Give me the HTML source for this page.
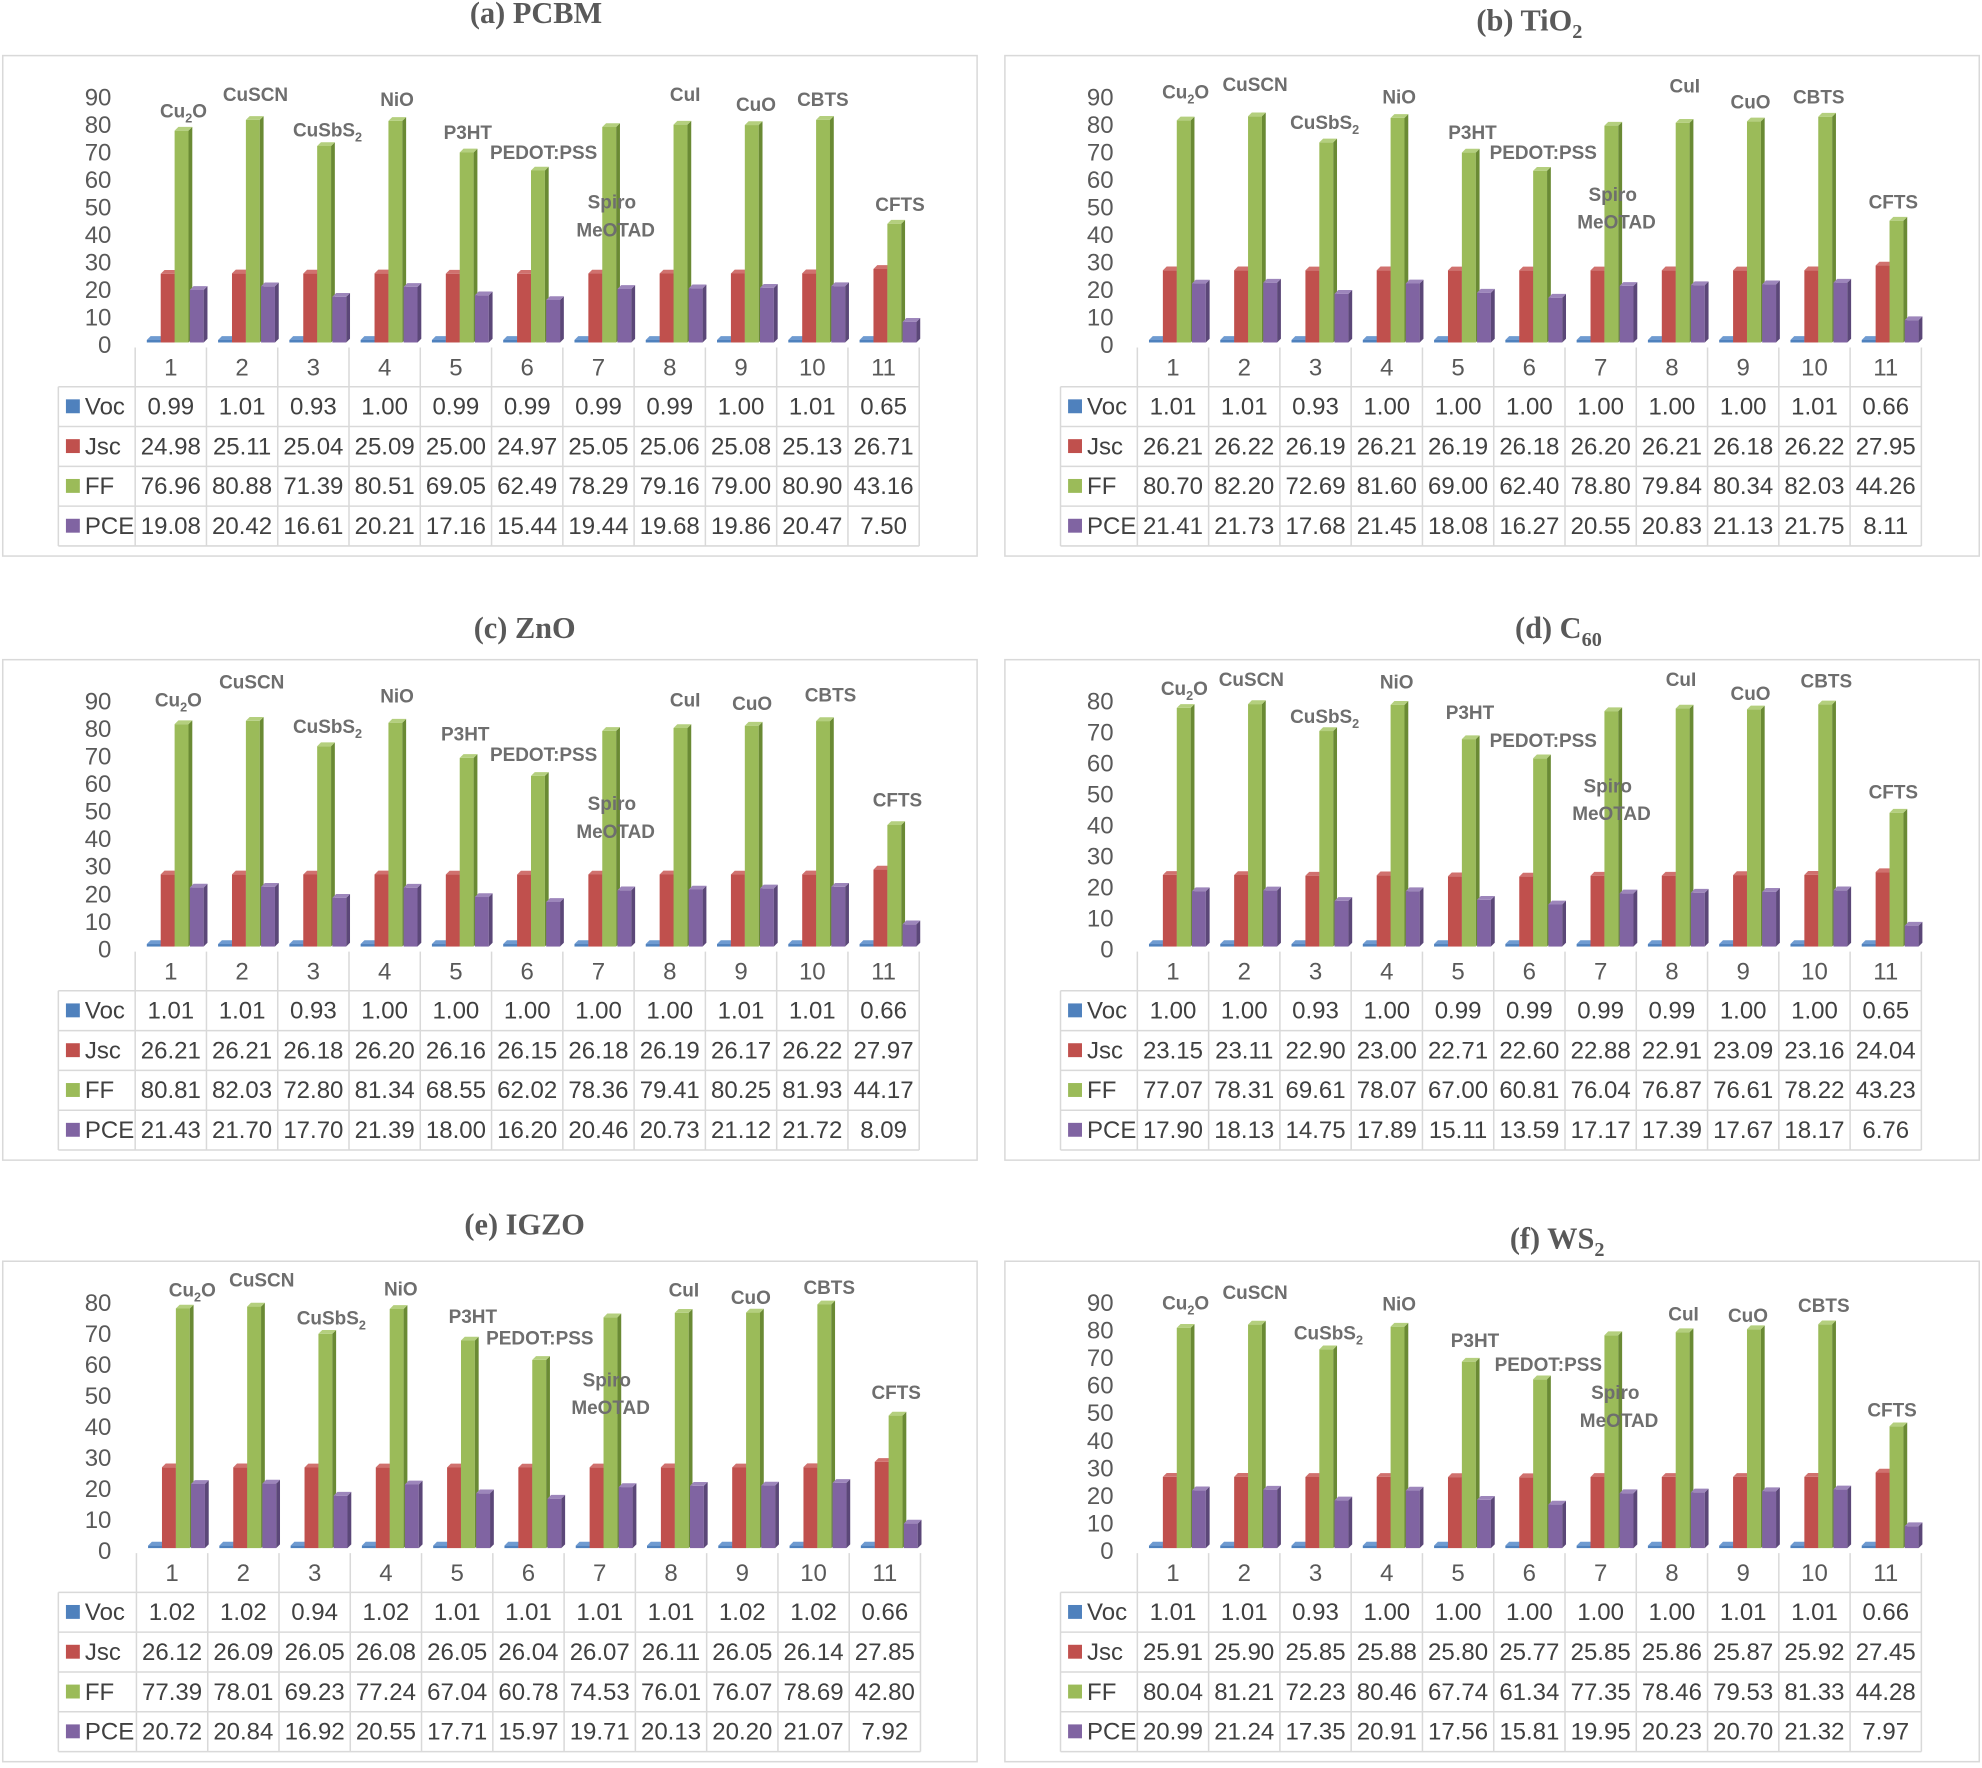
<!DOCTYPE html>
<html><head><meta charset="utf-8"><style>
html,body{margin:0;padding:0;background:#fff;}
svg{display:block;}
</style></head><body>
<svg id="s" xmlns="http://www.w3.org/2000/svg" width="1982" height="1768" viewBox="0 0 1568 1399"></svg>
<script>
const S=document.getElementById('s');
let out='';
const panels=[
{x:2,y:44,c1:135,max:90,title:'(a) PCBM',tx:424,ty:18,
 d:[[0.99,1.01,0.93,1.00,0.99,0.99,0.99,0.99,1.00,1.01,0.65],
    [24.98,25.11,25.04,25.09,25.00,24.97,25.05,25.06,25.08,25.13,26.71],
    [76.96,80.88,71.39,80.51,69.05,62.49,78.29,79.16,79.00,80.90,43.16],
    [19.08,20.42,16.61,20.21,17.16,15.44,19.44,19.68,19.86,20.47,7.50]],
 L:[[145,88],[202,75],[259,103],[314,79],[370,105],[430,121],[484,160],[542,75],[598,83],[651,79],[712,162]]},
{x:795,y:44,c1:928,max:90,title:'(b) TiO',sub:'2',tx:1210,ty:24,
 d:[[1.01,1.01,0.93,1.00,1.00,1.00,1.00,1.00,1.00,1.01,0.66],
    [26.21,26.22,26.19,26.21,26.19,26.18,26.20,26.21,26.18,26.22,27.95],
    [80.70,82.20,72.69,81.60,69.00,62.40,78.80,79.84,80.34,82.03,44.26],
    [21.41,21.73,17.68,21.45,18.08,16.27,20.55,20.83,21.13,21.75,8.11]],
 L:[[938,73],[993,67],[1048,97],[1107,77],[1165,105],[1221,121],[1276,154],[1333,68],[1385,81],[1439,77],[1498,160]]},
{x:2,y:522,c1:135,max:90,title:'(c) ZnO',tx:415,ty:505,
 d:[[1.01,1.01,0.93,1.00,1.00,1.00,1.00,1.00,1.01,1.01,0.66],
    [26.21,26.21,26.18,26.20,26.16,26.15,26.18,26.19,26.17,26.22,27.97],
    [80.81,82.03,72.80,81.34,68.55,62.02,78.36,79.41,80.25,81.93,44.17],
    [21.43,21.70,17.70,21.39,18.00,16.20,20.46,20.73,21.12,21.72,8.09]],
 L:[[141,554],[199,540],[259,575],[314,551],[368,581],[430,597],[484,636],[542,554],[595,557],[657,550],[710,633]]},
{x:795,y:522,c1:928,max:80,title:'(d) C',sub:'60',tx:1233,ty:505,
 d:[[1.00,1.00,0.93,1.00,0.99,0.99,0.99,0.99,1.00,1.00,0.65],
    [23.15,23.11,22.90,23.00,22.71,22.60,22.88,22.91,23.09,23.16,24.04],
    [77.07,78.31,69.61,78.07,67.00,60.81,76.04,76.87,76.61,78.22,43.23],
    [17.90,18.13,14.75,17.89,15.11,13.59,17.17,17.39,17.67,18.17,6.76]],
 L:[[937,545],[990,538],[1048,567],[1105,540],[1163,564],[1221,586],[1272,622],[1330,538],[1385,549],[1445,539],[1498,627]]},
{x:2,y:998,c1:136,max:80,title:'(e) IGZO',tx:415,ty:977,
 d:[[1.02,1.02,0.94,1.02,1.01,1.01,1.01,1.01,1.02,1.02,0.66],
    [26.12,26.09,26.05,26.08,26.05,26.04,26.07,26.11,26.05,26.14,27.85],
    [77.39,78.01,69.23,77.24,67.04,60.78,74.53,76.01,76.07,78.69,42.80],
    [20.72,20.84,16.92,20.55,17.71,15.97,19.71,20.13,20.20,21.07,7.92]],
 L:[[152,1021],[207,1013],[262,1043],[317,1020],[374,1042],[427,1059],[480,1092],[541,1021],[594,1027],[656,1019],[709,1102]]},
{x:795,y:998,c1:928,max:90,title:'(f) WS',sub:'2',tx:1232,ty:988,
 d:[[1.01,1.01,0.93,1.00,1.00,1.00,1.00,1.00,1.01,1.01,0.66],
    [25.91,25.90,25.85,25.88,25.80,25.77,25.85,25.86,25.87,25.92,27.45],
    [80.04,81.21,72.23,80.46,67.74,61.34,77.35,78.46,79.53,81.33,44.28],
    [20.99,21.24,17.35,20.91,17.56,15.81,19.95,20.23,20.70,21.32,7.97]],
 L:[[938,1031],[993,1023],[1051,1055],[1107,1032],[1167,1061],[1225,1080],[1278,1102],[1332,1040],[1383,1041],[1443,1033],[1497,1116]]}
];
const names=['Cu2O','CuSCN','CuSbS2','NiO','P3HT','PEDOT:PSS','Spiro','CuI','CuO','CBTS','CFTS'];
const cols=[['#4f81bd','#3a6496','#6f9bd1'],['#c0504d','#8e3a38','#d0716e'],['#9bbb59','#6a8a34','#b4cf7e'],['#8064a2','#5b4778','#9d86bb']];
const rowNames=['Voc','Jsc','FF','PCE'];
const TF='font-family="Liberation Sans, DejaVu Sans, sans-serif"';
for(const p of panels){
  const T=p.y, X=p.x, W=771, H=396;
  out+=`<rect x="${X}" y="${T}" width="${W}" height="${H}" fill="#fff" stroke="#d9d9d9" stroke-width="1.2"/>`;
  out+=`<text x="${p.tx}" y="${p.ty}" text-anchor="middle" font-family="Liberation Serif, serif" font-weight="bold" font-size="24" fill="#595959">${p.title}${p.sub?`<tspan font-size="16" dy="6">${p.sub}</tspan>`:''}</text>`;
  const top=T+33, zero=T+229, unit=(zero-top)/p.max;
  for(let v=0;v<=p.max;v+=10){
    const yy=zero-v*unit;
    out+=`<text x="${X+86}" y="${yy+6.5}" text-anchor="end" ${TF} font-size="19" fill="#595959">${v}</text>`;
  }
  const cw=56.4, left=p.c1-cw/2;
  for(let i=0;i<11;i++){
    const c=p.c1+i*cw;
    const base=zero-2;
    const offs=[-19,-8,3,15];
    for(let k=0;k<4;k++){
      let v=p.d[k][i]; let h=v*unit; if(k==0)h=2;
      const bx=c+offs[k], bw=11, dd=3;
      const yt=base-h;
      out+=`<rect x="${bx}" y="${yt}" width="${bw}" height="${h}" fill="${cols[k][0]}"/>`;
      out+=`<polygon points="${bx+bw},${yt} ${bx+bw+dd},${yt-dd} ${bx+bw+dd},${base-dd} ${bx+bw},${base}" fill="${cols[k][1]}"/>`;
      out+=`<polygon points="${bx},${yt} ${bx+dd},${yt-dd} ${bx+bw+dd},${yt-dd} ${bx+bw},${yt}" fill="${cols[k][2]}"/>`;
    }
  }
  for(let i=0;i<11;i++){
    const [lx,ly]=p.L[i]; const n=names[i];
    const a=`text-anchor="middle" ${TF} font-weight="bold" font-size="15" fill="#6e6e6e"`;
    if(n=='Cu2O') out+=`<text x="${lx}" y="${ly+5}" ${a}>Cu<tspan font-size="10" dy="4">2</tspan><tspan dy="-4">O</tspan></text>`;
    else if(n=='CuSbS2') out+=`<text x="${lx}" y="${ly+5}" ${a}>CuSbS<tspan font-size="10" dy="4">2</tspan></text>`;
    else if(n=='Spiro'){ out+=`<text x="${lx}" y="${ly+5}" ${a}>Spiro</text><text x="${lx+3}" y="${ly+27}" ${a}>MeOTAD</text>`;}
    else out+=`<text x="${lx}" y="${ly+5}" ${a}>${n}</text>`;
  }
  const tl=X+44, tr=left+11*cw, ht=T+231, hb=T+262, rh=31.5;
  const g='stroke="#d9d9d9" stroke-width="1.2"';
  out+=`<line x1="${left}" y1="${hb}" x2="${tr}" y2="${hb}" ${g}/>`;
  for(let j=1;j<=4;j++){const yy=hb+j*rh; out+=`<line x1="${tl}" y1="${yy}" x2="${tr}" y2="${yy}" ${g}/>`;}
  out+=`<line x1="${tl}" y1="${hb}" x2="${left}" y2="${hb}" ${g}/>`;
  out+=`<line x1="${tl}" y1="${hb}" x2="${tl}" y2="${hb+4*rh}" ${g}/>`;
  for(let i=0;i<=11;i++){const xx=left+i*cw; out+=`<line x1="${xx}" y1="${ht}" x2="${xx}" y2="${hb+4*rh}" ${g}/>`;}
  for(let i=0;i<11;i++){
    const c=left+(i+0.5)*cw;
    out+=`<text x="${c}" y="${hb-9}" text-anchor="middle" ${TF} font-size="19" fill="#595959">${i+1}</text>`;
    for(let k=0;k<4;k++){
      out+=`<text x="${c}" y="${hb+k*rh+22}" text-anchor="middle" ${TF} font-size="19" fill="#404040">${p.d[k][i].toFixed(2)}</text>`;
    }
  }
  for(let k=0;k<4;k++){
    const yy=hb+k*rh;
    out+=`<rect x="${tl+6}" y="${yy+10}" width="11" height="11" fill="${cols[k][0]}"/>`;
    out+=`<text x="${tl+21}" y="${yy+22}" ${TF} font-size="19" fill="#404040">${rowNames[k]}</text>`;
  }
}
S.innerHTML=out;
</script>
</body></html>
